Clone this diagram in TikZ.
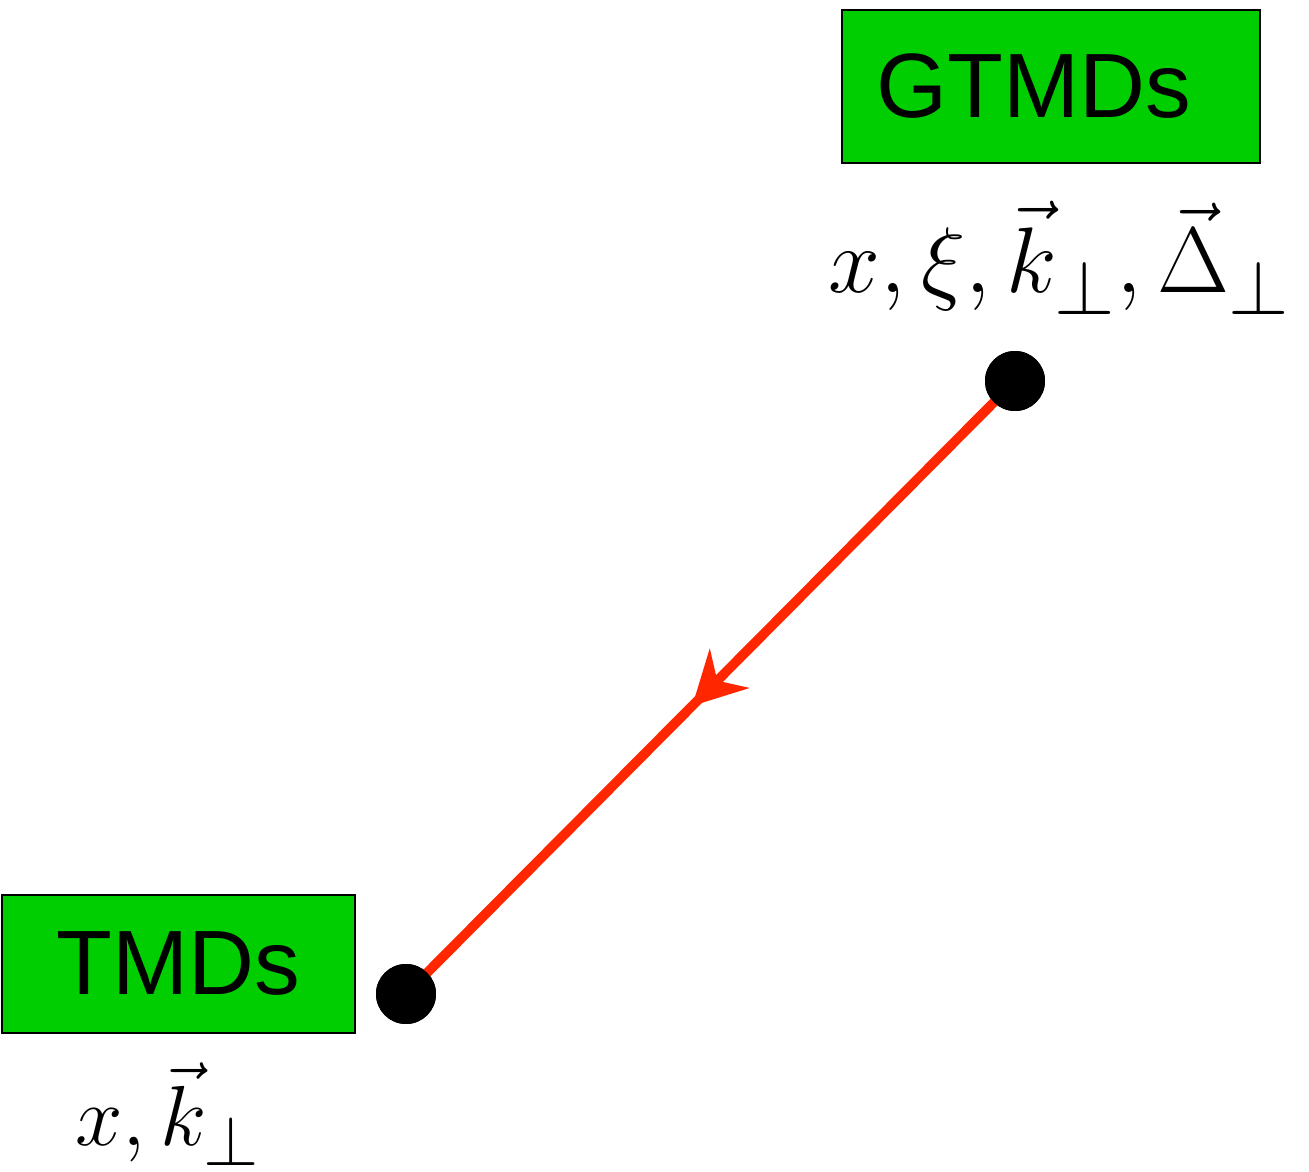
\documentclass[tikz,border=0pt]{standalone}
\usepackage{fontspec}
\newfontfamily\boxfont{Liberation Sans}
\usetikzlibrary{arrows.meta, decorations.markings}
\definecolor{boxgreen}{RGB}{0,206,0}
\definecolor{linered}{RGB}{255,38,0}
\begin{document}
\begin{tikzpicture}[x=0.02cm, y=-0.02cm,
    caixa/.style={draw, line width=1.6pt, fill=boxgreen, inner sep=0pt, font=\boxfont\fontsize{52}{60}\selectfont},
    ponto/.style={circle, fill=black, minimum size=1.2cm, inner sep=0pt},
    rotulo/.style={inner sep=0pt, font=\Huge}]
\useasboundingbox (0,0) rectangle (1309,1172);
\node[caixa, minimum width=8.36cm, minimum height=3.06cm] (gtmd) at (1051,86.5) {GTMDs\kern0.7cm};
\node[rotulo, scale=2.13] (gvar) at (1060,258) {$x,\xi,\vec{k}_\perp,\vec{\Delta}_\perp$};
\node[caixa, minimum width=7.06cm, minimum height=2.76cm] (tmd) at (178.5,964) {TMDs};
\node[rotulo, scale=1.95] (tvar) at (168,1114) {$x,\vec{k}_\perp$};
\node[ponto] (gdot) at (1015,381) {};
\node[ponto] (tdot) at (406,994) {};
% reducao GTMD -> TMD
\draw[linered, line width=5.5pt,
    decoration={markings, mark=at position 0.53 with {\arrow{Stealth[length=1.05cm, width=1.1cm, inset=0.34cm]}}},
    postaction={decorate}] (gdot.center) -- (tdot.center);
\node[ponto] at (gdot) {};
\node[ponto] at (tdot) {};
\end{tikzpicture}
\end{document}
